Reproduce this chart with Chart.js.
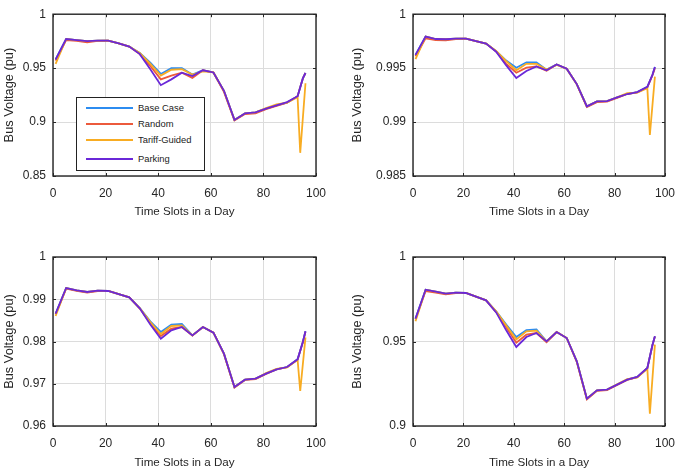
<!DOCTYPE html>
<html>
<head>
<meta charset="utf-8">
<script src="https://cdn.jsdelivr.net/npm/chart.js@4.4.0/dist/chart.umd.min.js"></script>
<style>
  body { margin: 0; background: #fff; width: 685px; height: 470px; position: relative; overflow: hidden;
         font-family: "Liberation Sans", Arial, sans-serif; }
  canvas { position: absolute; }
  #legend { position: absolute; left: 76px; top: 97px; width: 127px; height: 72px;
            border: 1px solid #222; background: #fff; }
  .row { position: absolute; left: 0; height: 0; }
  .row .swatch { position: absolute; left: 9px; width: 47px; top: -1px; height: 2px; }
  .row .txt { position: absolute; left: 61px; top: -6px; font-size: 9.4px; color: #222; white-space: nowrap; line-height: 12px; }
</style>
</head>
<body>
<canvas id="p1" width="340" height="235" style="left:0;top:0;width:340px;height:235px"></canvas>
<canvas id="p2" width="345" height="235" style="left:340px;top:0;width:345px;height:235px"></canvas>
<canvas id="p3" width="340" height="235" style="left:0;top:235px;width:340px;height:235px"></canvas>
<canvas id="p4" width="345" height="235" style="left:340px;top:235px;width:345px;height:235px"></canvas>
<div id="legend"></div>
<script>
// time slots where the curves have vertices
const slots = [1, 5, 9, 13, 17, 21, 25, 29, 33, 37, 41, 45, 49, 53, 57, 61, 65, 69, 73, 77, 81, 85, 89, 93, 94, 95, 96];
const seriesNames = ['Base Case', 'Random', 'Tariff-Guided', 'Parking'];
const seriesColors = ['#2c8cf0', '#ec5a3c', '#f8ac22', '#6a28d8'];

// panel 1 (top left)
const p1Base    = [0.958, 0.977, 0.976, 0.975, 0.9755, 0.9755, 0.973, 0.970, 0.964, 0.955, 0.9446, 0.950, 0.950, 0.944, 0.948, 0.946, 0.929, 0.902, 0.908, 0.909, 0.9125, 0.9155, 0.918, 0.924, null, 0.9405, 0.9455];
const p1Random  = [0.957, 0.976, 0.9752, 0.974, 0.9752, 0.9755, 0.973, 0.970, 0.963, 0.952, 0.9396, 0.943, 0.9458, 0.941, 0.948, 0.946, 0.928, 0.9015, 0.9075, 0.908, 0.912, 0.915, 0.918, 0.924, null, 0.9405, 0.9455];
const p1Tariff  = [0.954, 0.977, 0.976, 0.975, 0.9755, 0.9755, 0.973, 0.970, 0.964, 0.954, 0.9431, 0.9485, 0.949, 0.944, 0.947, 0.946, 0.929, 0.902, 0.908, 0.909, 0.913, 0.9165, 0.918, 0.923, 0.8715, null, 0.936];
const p1Parking = [0.958, 0.977, 0.976, 0.975, 0.9755, 0.9755, 0.973, 0.970, 0.963, 0.949, 0.9342, 0.9396, 0.9458, 0.9426, 0.948, 0.946, 0.929, 0.902, 0.908, 0.909, 0.9125, 0.9155, 0.9185, 0.924, null, 0.9405, 0.9455];
const p1Range = [0.85, 1, 0.05];

// panel 2 (top right)
const p2Base    = [0.99623, 0.99792, 0.9977, 0.99768, 0.99774, 0.99774, 0.9975, 0.99727, 0.99658, 0.9957, 0.99504, 0.99554, 0.99554, 0.99486, 0.99534, 0.99495, 0.99352, 0.99145, 0.99192, 0.99195, 0.99228, 0.9926, 0.99278, 0.99326, null, 0.99436, 0.9951];
const p2Random  = [0.9961, 0.99777, 0.9976, 0.99758, 0.9977, 0.99774, 0.9975, 0.99727, 0.99655, 0.9954, 0.99457, 0.99504, 0.99516, 0.99475, 0.99534, 0.99495, 0.9935, 0.9914, 0.99185, 0.9919, 0.99225, 0.9926, 0.99275, 0.99322, null, 0.99432, 0.995];
const p2Tariff  = [0.99584, 0.99792, 0.9977, 0.99768, 0.99774, 0.99774, 0.9975, 0.99727, 0.9966, 0.99565, 0.9948, 0.9954, 0.9954, 0.99486, 0.9953, 0.99495, 0.99352, 0.99145, 0.99192, 0.99195, 0.9923, 0.99268, 0.99272, 0.99315, 0.9888, null, 0.99421];
const p2Parking = [0.99623, 0.99792, 0.9977, 0.99768, 0.99774, 0.99774, 0.9975, 0.99727, 0.99652, 0.99525, 0.99409, 0.99474, 0.99516, 0.9948, 0.99534, 0.99495, 0.99352, 0.99145, 0.99192, 0.99195, 0.99228, 0.9926, 0.99278, 0.99326, null, 0.99436, 0.9951];
const p2Range = [0.985, 1, 0.005];

// panel 3 (bottom left)
const p3Base    = [0.98659, 0.99266, 0.9921, 0.99172, 0.99203, 0.99195, 0.9912, 0.99045, 0.98793, 0.98477, 0.98225, 0.984, 0.98414, 0.98146, 0.98343, 0.98209, 0.97712, 0.96923, 0.97097, 0.9712, 0.97239, 0.97341, 0.97396, 0.97578, null, 0.97988, 0.98241];
const p3Random  = [0.9864, 0.9925, 0.992, 0.9916, 0.9919, 0.99195, 0.9912, 0.99045, 0.9878, 0.9843, 0.9813, 0.98304, 0.98343, 0.9814, 0.98343, 0.98209, 0.977, 0.9691, 0.9709, 0.9711, 0.9723, 0.9734, 0.9739, 0.9757, null, 0.9798, 0.9823];
const p3Tariff  = [0.98604, 0.99266, 0.9921, 0.99172, 0.99203, 0.99195, 0.9912, 0.99045, 0.98793, 0.9846, 0.98178, 0.98367, 0.98383, 0.98146, 0.98343, 0.98209, 0.97712, 0.96923, 0.97097, 0.9712, 0.9725, 0.9735, 0.9739, 0.9757, 0.96828, null, 0.98099];
const p3Parking = [0.98659, 0.99266, 0.9921, 0.99172, 0.99203, 0.99195, 0.9912, 0.99045, 0.98785, 0.984, 0.98067, 0.98264, 0.98343, 0.98146, 0.98343, 0.98209, 0.97712, 0.96923, 0.97097, 0.9712, 0.97239, 0.97341, 0.97396, 0.97578, null, 0.97988, 0.98241];
const p3Range = [0.96, 1, 0.01];

// panel 4 (bottom right)
const p4Base    = [0.96351, 0.98067, 0.9795, 0.9783, 0.9789, 0.9787, 0.9765, 0.97436, 0.96785, 0.95996, 0.95266, 0.9568, 0.9572, 0.9501, 0.95562, 0.95207, 0.93826, 0.91617, 0.9211, 0.9215, 0.92446, 0.92742, 0.929, 0.93432, null, 0.94773, 0.95306];
const p4Random  = [0.9632, 0.97988, 0.979, 0.9779, 0.9787, 0.9787, 0.9765, 0.97436, 0.9674, 0.9585, 0.9493, 0.95404, 0.95503, 0.9496, 0.95562, 0.95207, 0.9379, 0.9158, 0.9208, 0.9212, 0.9243, 0.9273, 0.9289, 0.9342, null, 0.9476, 0.9529];
const p4Tariff  = [0.96193, 0.98067, 0.9795, 0.9783, 0.9789, 0.9787, 0.9765, 0.97436, 0.96785, 0.9595, 0.95128, 0.95602, 0.95641, 0.9501, 0.95562, 0.95207, 0.93826, 0.91617, 0.9211, 0.9215, 0.9247, 0.9277, 0.9288, 0.9338, 0.9073, null, 0.94813];
const p4Parking = [0.96351, 0.98067, 0.9795, 0.9783, 0.9789, 0.9787, 0.9765, 0.97436, 0.9672, 0.95661, 0.94675, 0.95266, 0.95503, 0.9501, 0.95562, 0.95207, 0.93826, 0.91617, 0.9211, 0.9215, 0.92446, 0.92742, 0.929, 0.93432, null, 0.94773, 0.95306];
const p4Range = [0.9, 1, 0.05];

const xTicks = [0, 20, 40, 60, 80, 100];

// box round the plot with small inward ticks, matlab style
const framePlugin = {
  id: 'frame',
  afterDraw(chart) {
    const { ctx, chartArea: a, scales } = chart;
    ctx.save();
    ctx.strokeStyle = '#262626';
    ctx.lineWidth = 1.4;
    ctx.strokeRect(a.left, a.top, a.right - a.left, a.bottom - a.top);
    ctx.lineWidth = 1;
    ctx.beginPath();
    scales.x.ticks.forEach(t => {
      const px = Math.round(scales.x.getPixelForValue(t.value)) + 0.5;
      ctx.moveTo(px, a.bottom); ctx.lineTo(px, a.bottom - 3);
      ctx.moveTo(px, a.top); ctx.lineTo(px, a.top + 3);
    });
    scales.y.ticks.forEach(t => {
      const py = Math.round(scales.y.getPixelForValue(t.value)) + 0.5;
      ctx.moveTo(a.left, py); ctx.lineTo(a.left + 3, py);
      ctx.moveTo(a.right, py); ctx.lineTo(a.right - 3, py);
    });
    ctx.stroke();
    ctx.restore();
  }
};

function fmt(v) {
  return String(Number(v.toFixed(4)));
}

function makePanel(id, series, range, geo) {
  const ctx = document.getElementById(id).getContext('2d');
  return new Chart(ctx, {
    type: 'line',
    data: {
      labels: slots,
      datasets: series.map((vals, i) => ({
        label: seriesNames[i],
        data: slots.map((s, k) => ({ x: s, y: vals[k] })),
        borderColor: seriesColors[i],
        backgroundColor: seriesColors[i],
        borderWidth: 1.8,
        pointRadius: 0,
        tension: 0,
        spanGaps: true,
        fill: false,
        order: 3 - i
      }))
    },
    options: {
      responsive: false,
      animation: false,
      layout: { padding: { left: 0, right: geo.padRight, top: geo.padTop, bottom: geo.padBottom } },
      plugins: { legend: { display: false }, tooltip: { enabled: false } },
      scales: {
        x: {
          type: 'linear',
          min: 0, max: 100,
          afterBuildTicks: s => { s.ticks = xTicks.map(v => ({ value: v })); },
          afterFit: s => { s.height = geo.xHeight; },
          grid: { color: '#dcdcdc', lineWidth: 1, drawTicks: false },
          border: { display: false },
          ticks: { padding: 10, color: '#262626', font: { family: 'Liberation Sans', size: 12 }, maxRotation: 0 },
          title: { display: true, text: 'Time Slots in a Day', color: '#262626', padding: { top: 0, bottom: 0 },
                   font: { family: 'Liberation Sans', size: 11.6 } }
        },
        y: {
          min: range[0], max: range[1],
          ticks: { stepSize: range[2], padding: 7, color: '#262626', callback: v => fmt(v),
                   font: { family: 'Liberation Sans', size: 12 } },
          afterFit: s => { s.width = geo.yWidth; },
          grid: { color: '#dcdcdc', lineWidth: 1, drawTicks: false },
          border: { display: false },
          title: { display: true, text: 'Bus Voltage (pu)', color: '#262626', padding: { top: geo.yTitlePad, bottom: 0 },
                   font: { family: 'Liberation Sans', size: 12.8 } }
        }
      }
    },
    plugins: [framePlugin]
  });
}

makePanel('p1', [p1Base, p1Random, p1Tariff, p1Parking], p1Range,
  { padRight: 24, padTop: 8, padBottom: 16, xHeight: 43, yWidth: 53, yTitlePad: 2 });
makePanel('p2', [p2Base, p2Random, p2Tariff, p2Parking], p2Range,
  { padRight: 7, padTop: 8, padBottom: 16, xHeight: 43, yWidth: 73, yTitlePad: 10 });
makePanel('p3', [p3Base, p3Random, p3Tariff, p3Parking], p3Range,
  { padRight: 24, padTop: 22, padBottom: 0, xHeight: 44, yWidth: 53, yTitlePad: 2 });
makePanel('p4', [p4Base, p4Random, p4Tariff, p4Parking], p4Range,
  { padRight: 7, padTop: 22, padBottom: 0, xHeight: 44, yWidth: 73, yTitlePad: 10 });

// legend box inside the first panel
const legend = document.getElementById('legend');
const rowTops = [10, 26, 42, 61];
seriesNames.forEach((name, i) => {
  const row = document.createElement('div');
  row.className = 'row';
  row.style.top = rowTops[i] + 'px';
  row.innerHTML = '<div class="swatch" style="background:' + seriesColors[i] + '"></div><div class="txt">' + name + '</div>';
  legend.appendChild(row);
});
</script>
</body>
</html>
